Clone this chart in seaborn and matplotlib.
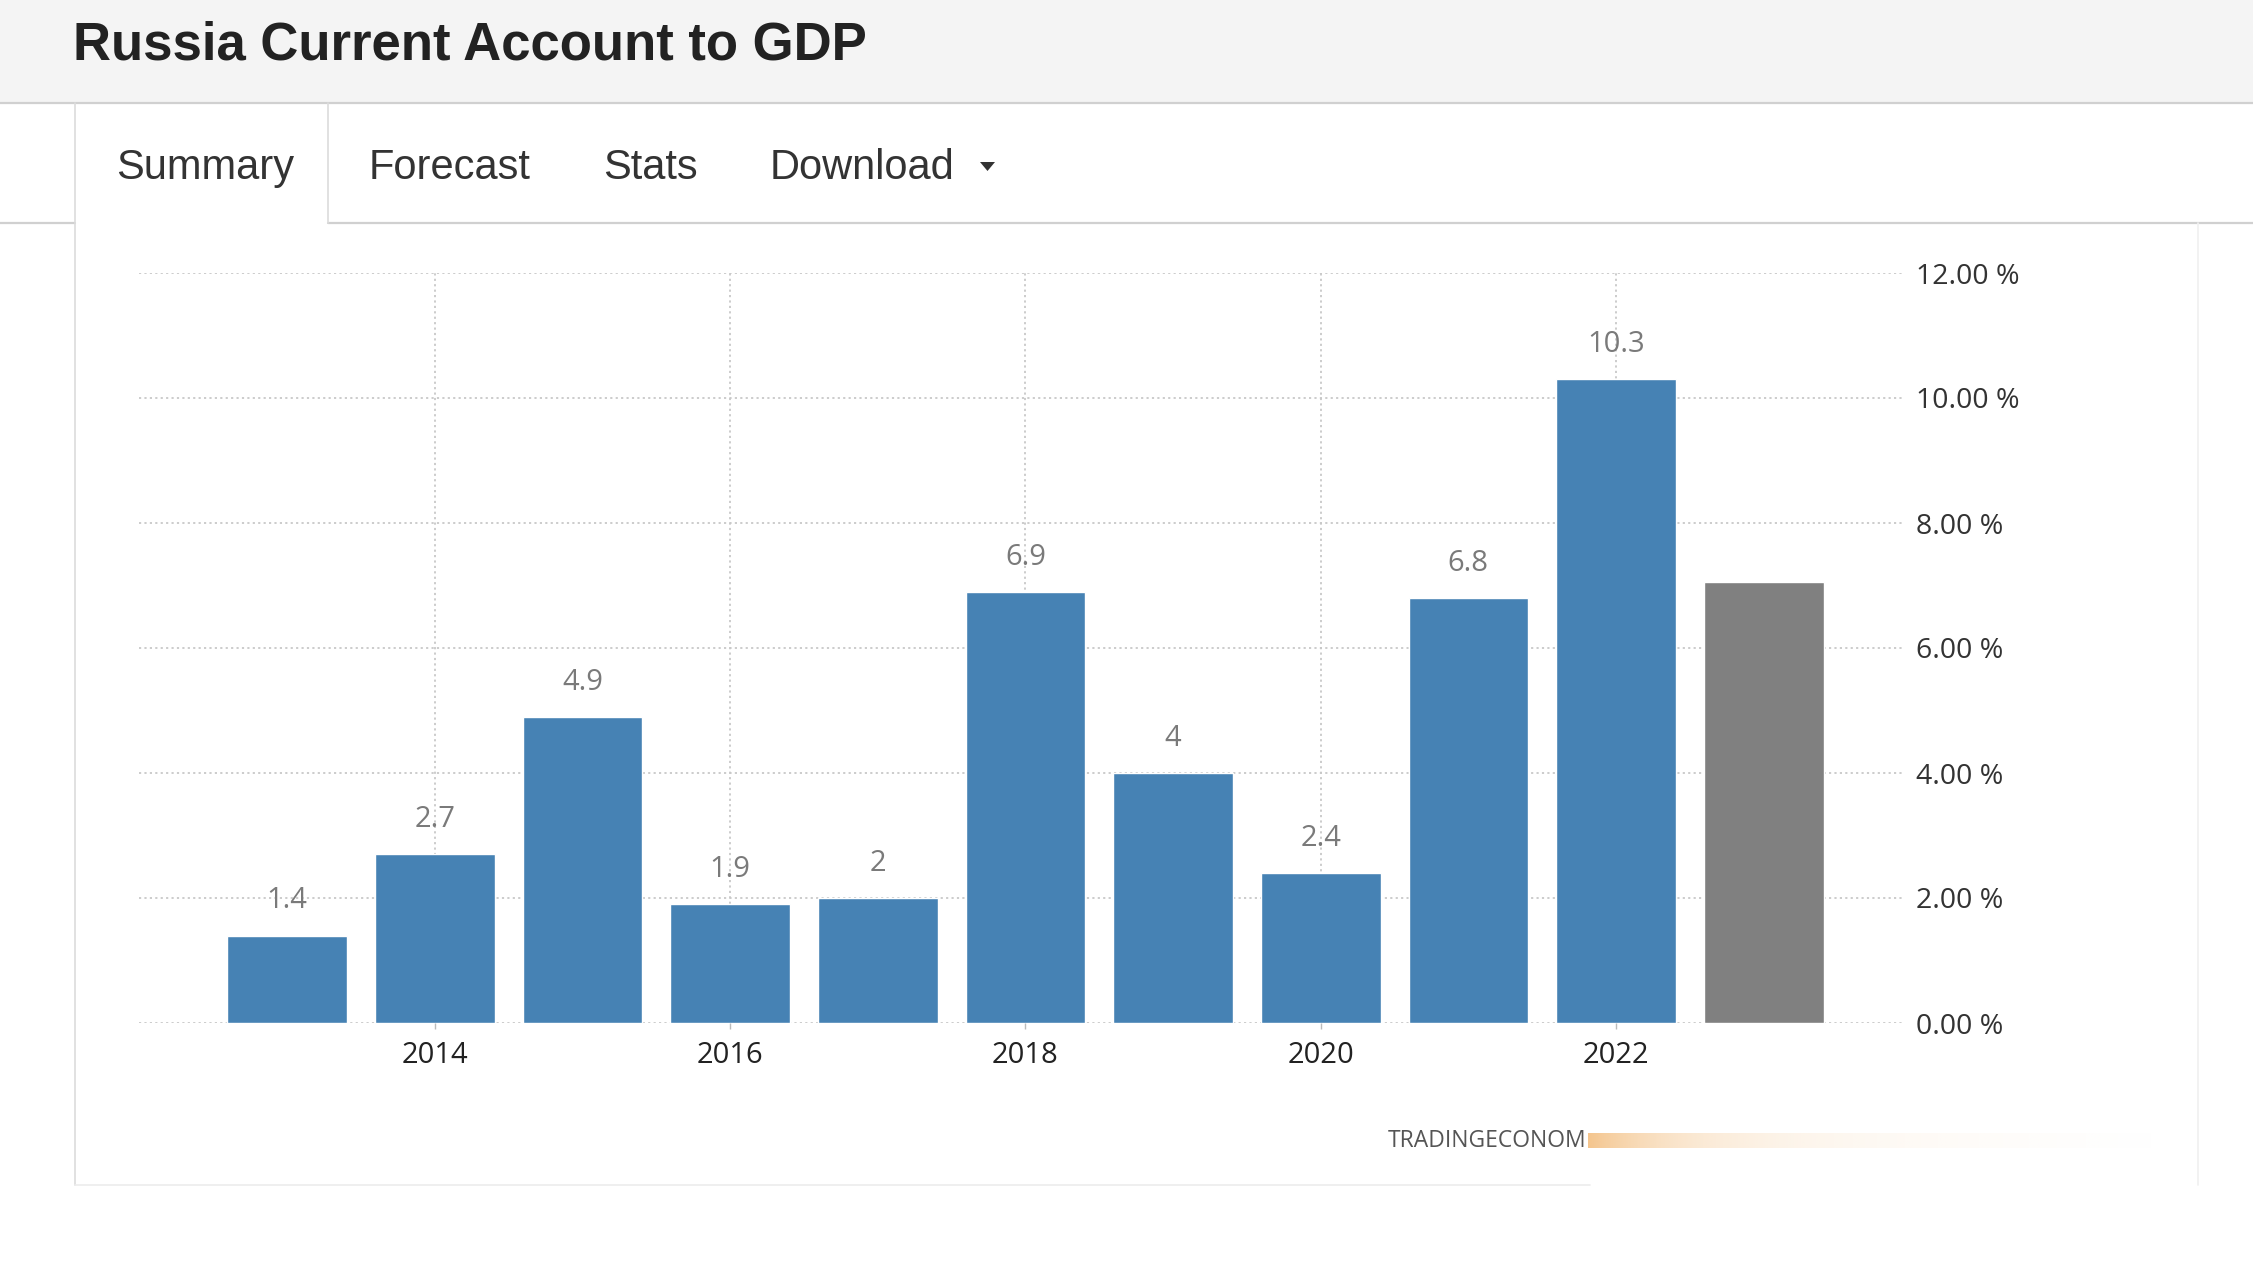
import numpy as np
import pandas as pd
import matplotlib.pyplot as plt
import seaborn as sns
from matplotlib.patches import Rectangle, Polygon
from matplotlib.colors import to_rgb

# chart data
years = [2013, 2014, 2015, 2016, 2017, 2018, 2019, 2020, 2021, 2022, 2023]
values = [1.4, 2.7, 4.9, 1.9, 2.0, 6.9, 4.0, 2.4, 6.8, 10.3, 7.05]
kinds = ['actual'] * 10 + ['forecast']
value_labels = ['1.4', '2.7', '4.9', '1.9', '2', '6.9', '4', '2.4', '6.8', '10.3', '']
x_ticks = [2014, 2016, 2018, 2020, 2022]
y_ticks = [0, 2, 4, 6, 8, 10, 12]

title = 'Russia Current Account to GDP'
tabs = ['Summary', 'Forecast', 'Stats', 'Download']

BLUE = '#4682b4'
GREY = '#808080'
W, H = 2253, 1280


def draw_page(fig):
    '''page chrome drawn in pixel coordinates behind the chart'''
    bg = fig.add_axes([0, 0, 1, 1], zorder=0)
    bg.set_xlim(0, W)
    bg.set_ylim(H, 0)
    bg.axis('off')

    line = '#d0d0d0'
    bg.add_patch(Rectangle((0, 0), W, 103, color='#f4f4f4', lw=0))
    bg.plot([0, W], [103, 103], color=line, lw=1.6)
    bg.plot([0, 75], [223, 223], color=line, lw=1.6)
    bg.plot([328, W], [223, 223], color=line, lw=1.6)
    bg.plot([75, 75], [103, 1185], color='#dcdcdc', lw=1.2)
    bg.plot([328, 328], [103, 223], color='#dcdcdc', lw=1.2)
    bg.plot([2198, 2198], [223, 1185], color='#f0f0f0', lw=1.2)
    bg.plot([75, 1590], [1185, 1185], color='#ececec', lw=1.2)

    bg.text(73, 59, title, fontsize=38, weight='bold', color='#222222',
            family='Liberation Sans', va='baseline')
    for name, x in zip(tabs, [116, 369, 603, 770]):
        bg.text(x, 179, name, fontsize=30, color='#333333',
                family='Liberation Sans', va='baseline')
    bg.add_patch(Polygon([(980, 162), (995, 162), (987.5, 171)],
                         closed=True, color='#333333', lw=0))

    # watermark with the orange smear
    bg.text(1388, 1141, 'TRADINGECONOM', fontsize=16.5, color='#555555',
            family='Open Sans', va='center')
    grad = np.zeros((1, 400, 4))
    grad[..., :3] = to_rgb('#f3c083')
    t = np.linspace(0, 1, 400)
    grad[..., 3] = 0.8 * np.exp(-t * 6) + 0.12 * (1 - t)
    bg.imshow(grad, extent=[1588, 2160, 1148, 1133], aspect='auto',
              interpolation='bilinear')
    bg.set_xlim(0, W)
    bg.set_ylim(H, 0)


def main():
    sns.set_style('white')
    plt.rcParams['font.family'] = ['Open Sans', 'DejaVu Sans']

    fig = plt.figure(figsize=(W / 100, H / 100), dpi=100)
    draw_page(fig)

    ax = fig.add_axes([139.4 / W, 1 - 1023 / H, (1902.5 - 139.4) / W,
                       (1023 - 273) / H], zorder=2)
    ax.set_facecolor('none')

    df = pd.DataFrame({'year': years, 'value': values, 'kind': kinds})
    sns.barplot(data=df, x='year', y='value', hue='kind',
                palette={'actual': BLUE, 'forecast': GREY},
                native_scale=True, dodge=False, width=0.81,
                saturation=1, legend=False, ax=ax, zorder=3)

    for yr, v, lab in zip(years, values, value_labels):
        if lab:
            ax.annotate(lab, (yr, v), xytext=(0, 25), textcoords='offset points',
                        ha='center', va='center', fontsize=21,
                        color='#7a7a7a', zorder=4)

    ax.set_xlim(2012.0, 2023.94)
    ax.set_ylim(0, 12)
    ax.set_xticks(x_ticks)
    ax.set_xticklabels([str(t) for t in x_ticks], fontsize=21, color='#222222')
    ax.set_yticks(y_ticks)
    ax.set_yticklabels([f'{t:.2f} %' for t in y_ticks], fontsize=20.5,
                       color='#333333')
    ax.yaxis.tick_right()
    ax.tick_params(axis='y', length=0, pad=9.4)
    ax.tick_params(axis='x', length=4, width=1, color='#bbbbbb',
                   direction='out', pad=9, bottom=True)
    ax.set_xlabel('')
    ax.set_ylabel('')
    for sp in ax.spines.values():
        sp.set_visible(False)

    grid_kw = dict(color='#c8c8c8', lw=1.3, ls=(0, (1.2, 1.8)), zorder=1)
    for t in y_ticks:
        ax.axhline(t, **grid_kw)
    for t in x_ticks:
        ax.axvline(t, **grid_kw)

    fig.savefig('out.png', dpi=100)


if __name__ == '__main__':
    main()
